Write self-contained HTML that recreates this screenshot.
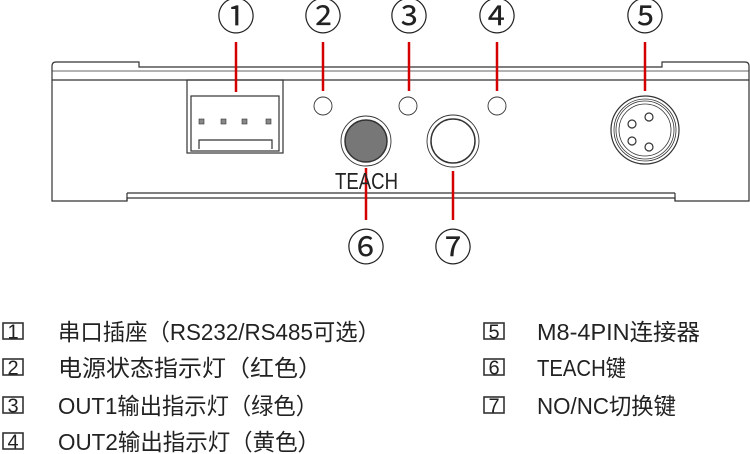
<!DOCTYPE html>
<html><head><meta charset="utf-8"><style>
html,body{margin:0;padding:0;background:#fff;width:750px;height:454px;overflow:hidden}
svg{display:block}
text{font-family:"Liberation Sans","Noto Sans CJK SC",sans-serif;fill:#222}
</style></head><body>
<svg width="750" height="454" viewBox="0 0 750 454" xmlns="http://www.w3.org/2000/svg">
<g fill="none" stroke="#333" stroke-width="1.2">
<path d="M52,201 V66 Q52,62 56,62 H139 V67 H662 V62 H745 Q749,62 749,66 V201 H675 V198 H127 V201 Z"/>
<line x1="52" y1="80" x2="749" y2="80"/>
<line x1="52" y1="71" x2="749" y2="71" stroke-width="0.8"/>
<line x1="127" y1="193" x2="675" y2="193"/>
<line x1="127" y1="193" x2="127" y2="201"/>
<line x1="675" y1="193" x2="675" y2="201"/>
<rect x="187" y="80" width="96" height="73"/>
<rect x="191" y="96" width="88" height="55"/>
<path d="M199,149 V140 H272 V149"/>
<circle cx="323" cy="106" r="9" stroke-width="0.9"/>
<circle cx="408" cy="106" r="9" stroke-width="0.9"/>
<circle cx="497" cy="106" r="9" stroke-width="0.9"/>
<circle cx="366" cy="141" r="25" stroke-width="0.9"/>
<circle cx="366" cy="141" r="21" fill="#777" stroke-width="1.5"/>
<circle cx="453" cy="141" r="26" stroke-width="0.9"/>
<circle cx="453" cy="141" r="22" stroke-width="1.5"/>
<circle cx="645" cy="130" r="34"/>
<circle cx="645" cy="130" r="31" stroke-width="0.8"/>
<circle cx="645" cy="130" r="29" stroke-width="0.8"/>
<circle cx="645" cy="130" r="26" stroke-width="0.8"/>
<circle cx="632" cy="124" r="4"/><circle cx="649" cy="117" r="4"/>
<circle cx="632" cy="141" r="4"/><circle cx="649" cy="147" r="4"/>
</g>
<g fill="#888" stroke="#333" stroke-width="0.6">
<rect x="199" y="119" width="5" height="5"/><rect x="221" y="119" width="5" height="5"/>
<rect x="242" y="119" width="5" height="5"/><rect x="266" y="119" width="5" height="5"/>
</g>
<g stroke="#d40000" stroke-width="2.5">
<line x1="236" y1="42" x2="236" y2="92"/>
<line x1="323" y1="42" x2="323" y2="91"/>
<line x1="409" y1="42" x2="409" y2="91"/>
<line x1="497" y1="42" x2="497" y2="91"/>
<line x1="645" y1="42" x2="645" y2="91"/>
<line x1="366" y1="168" x2="366" y2="220"/>
<line x1="453" y1="171" x2="453" y2="220"/>
</g>
<text x="335" y="189" font-size="23" textLength="63" lengthAdjust="spacingAndGlyphs">TEACH</text>
<g font-size="38" text-anchor="middle">
<text x="236" y="30">①</text><text x="323" y="30">②</text><text x="409" y="30">③</text>
<text x="497" y="30">④</text><text x="645" y="30">⑤</text>
<text x="366" y="261">⑥</text><text x="453" y="261">⑦</text>
</g>
<g fill="none" stroke="#333" stroke-width="1.6">
<rect x="3" y="323" width="20" height="16"/><rect x="3" y="359" width="20" height="16"/>
<rect x="3" y="397" width="20" height="16"/><rect x="3" y="433" width="20" height="16"/>
<rect x="484" y="323" width="20" height="16"/><rect x="484" y="359" width="20" height="16"/>
<rect x="484" y="397" width="20" height="16"/>
</g>
<g font-size="20" text-anchor="middle" font-family="Liberation Sans, sans-serif">
<text x="13" y="338.5">1</text><text x="13" y="374.5">2</text><text x="13" y="412.5">3</text><text x="13" y="448.5">4</text>
<text x="494" y="338.5">5</text><text x="494" y="374.5">6</text><text x="494" y="412.5">7</text>
</g>
<g font-size="23">
<text x="58" y="340" textLength="322" lengthAdjust="spacingAndGlyphs">串口插座（RS232/RS485可选）</text>
<text x="58" y="376" textLength="264" lengthAdjust="spacingAndGlyphs">电源状态指示灯（红色）</text>
<text x="58" y="414" textLength="260" lengthAdjust="spacingAndGlyphs">OUT1输出指示灯（绿色）</text>
<text x="58" y="450" textLength="262" lengthAdjust="spacingAndGlyphs">OUT2输出指示灯（黄色）</text>
<text x="537" y="340" textLength="163" lengthAdjust="spacingAndGlyphs">M8-4PIN连接器</text>
<text x="537" y="376" textLength="89" lengthAdjust="spacingAndGlyphs">TEACH键</text>
<text x="537" y="414" textLength="139" lengthAdjust="spacingAndGlyphs">NO/NC切换键</text>
</g>
</svg>
</body></html>
